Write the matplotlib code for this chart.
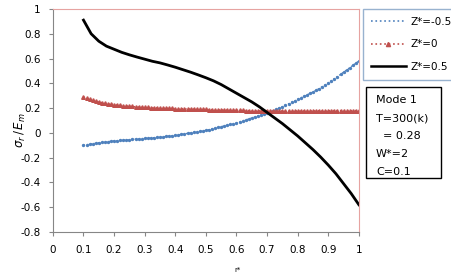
import numpy as np
import matplotlib
matplotlib.use('Agg')
import matplotlib.pyplot as plt
from matplotlib.lines import Line2D
from matplotlib.patches import Rectangle

# r* positions (dense sampling for marker series)
r_dense = np.round(np.arange(0.10, 1.001, 0.01), 2)
r_line = np.round(np.arange(0.100, 1.0001, 0.025), 3)

# Z*=-0.5
z_neg = [-0.100, -0.096, -0.092, -0.088, -0.084, -0.080, -0.077, -0.074, -0.071, -0.068,
         -0.065, -0.063, -0.061, -0.059, -0.057, -0.055, -0.053, -0.051, -0.049, -0.047,
         -0.045, -0.043, -0.041, -0.039, -0.037, -0.035, -0.032, -0.029, -0.026, -0.023,
         -0.020, -0.016, -0.012, -0.008, -0.004, 0.000, 0.004, 0.008, 0.012, 0.016,
         0.020, 0.026, 0.032, 0.038, 0.044, 0.050, 0.056, 0.062, 0.068, 0.074,
         0.080, 0.088, 0.096, 0.104, 0.112, 0.120, 0.128, 0.136, 0.144, 0.152,
         0.160, 0.170, 0.180, 0.190, 0.200, 0.210, 0.222, 0.234, 0.246, 0.258,
         0.270, 0.282, 0.294, 0.306, 0.318, 0.330, 0.344, 0.358, 0.372, 0.386,
         0.400, 0.418, 0.436, 0.454, 0.472, 0.490, 0.508, 0.526, 0.544, 0.562,
         0.580]

# Z*=0
z_zero = [0.290, 0.280, 0.270, 0.262, 0.255, 0.250, 0.245, 0.240, 0.236, 0.232,
          0.228, 0.225, 0.222, 0.219, 0.217, 0.215, 0.213, 0.211, 0.209, 0.207,
          0.206, 0.205, 0.204, 0.203, 0.202, 0.201, 0.200, 0.199, 0.198, 0.197,
          0.196, 0.195, 0.195, 0.194, 0.193, 0.192, 0.192, 0.191, 0.190, 0.190,
          0.189, 0.188, 0.188, 0.187, 0.186, 0.186, 0.185, 0.184, 0.184, 0.183,
          0.182, 0.182, 0.181, 0.180, 0.180, 0.179, 0.179, 0.178, 0.178, 0.177,
          0.177, 0.177, 0.176, 0.176, 0.176, 0.176, 0.176, 0.176, 0.176, 0.177,
          0.177, 0.177, 0.177, 0.178, 0.178, 0.178, 0.178, 0.179, 0.179, 0.179,
          0.179, 0.180, 0.180, 0.180, 0.180, 0.180, 0.180, 0.180, 0.180, 0.180,
          0.180]

# Z*=0.5
z_pos = [0.91, 0.80, 0.74, 0.70, 0.675, 0.65, 0.63, 0.612, 0.595, 0.578,
         0.565, 0.548, 0.53, 0.51, 0.49, 0.468, 0.445, 0.42, 0.39, 0.355,
         0.32, 0.285, 0.25, 0.21, 0.165, 0.12, 0.075, 0.025, -0.025, -0.08,
         -0.135, -0.195, -0.26, -0.33, -0.41, -0.49, -0.58]

series_labels = ['Z*=-0.5', 'Z*=0', 'Z*=0.5']
note_lines = ['Mode 1', 'T=300(k)', '  = 0.28', 'W*=2', 'C=0.1']
y_ticks = [-0.8, -0.6, -0.4, -0.2, 0, 0.2, 0.4, 0.6, 0.8, 1]
x_ticks = [0, 0.1, 0.2, 0.3, 0.4, 0.5, 0.6, 0.7, 0.8, 0.9, 1]

blue = '#4f81bd'
red = '#c0504d'

fig = plt.figure(figsize=(4.52, 2.72), dpi=100)
ax = fig.add_axes([0.117, 0.147, 0.677, 0.820])

ax.plot(r_dense, z_neg, color=blue, linestyle=':', linewidth=1.0,
        marker='o', markersize=1.4)
ax.plot(r_dense, z_zero, color=red, linestyle=':', linewidth=1.0,
        marker='^', markersize=2.6)
ax.plot(r_line, z_pos, color='black', linewidth=2.0)

ax.set_xlim(0, 1)
ax.set_ylim(-0.8, 1)
ax.set_xticks(x_ticks)
ax.set_xticklabels(['0', '0.1', '0.2', '0.3', '0.4', '0.5', '0.6', '0.7', '0.8', '0.9', '1'])
ax.set_yticks(y_ticks)
ax.set_yticklabels(['-0.8', '-0.6', '-0.4', '-0.2', '0', '0.2', '0.4', '0.6', '0.8', '1'])
ax.tick_params(labelsize=7.5, length=3, color='#868686', direction='out', pad=6)

for side in ['left', 'bottom']:
    ax.spines[side].set_color('#868686')
for side in ['top', 'right']:
    ax.spines[side].set_color('#e6a3a1')

fig.text(0.045, 0.52, r'$\sigma_r\,/\,E_m$',
         rotation=90, fontsize=8.5, fontweight='bold', ha='center', va='center')
fig.text(0.525, -0.005, 'r*', fontsize=5, ha='center', va='bottom')

handles = [
    Line2D([], [], color=blue, linestyle=':', linewidth=1.2),
    Line2D([], [], color=red, linestyle=':', linewidth=1.2, marker='^', markersize=3),
    Line2D([], [], color='black', linewidth=1.8),
]
leg = ax.legend(handles, series_labels, loc='upper left', bbox_to_anchor=(1.013, 1.0),
                borderaxespad=0, fontsize=7.5, frameon=True, fancybox=False,
                handlelength=3.4, handletextpad=0.4, labelspacing=1.2,
                borderpad=0.75, numpoints=1)
leg.get_frame().set_edgecolor('#7f9fc4')
leg.get_frame().set_linewidth(1.0)

# parameter box
fig.add_artist(Rectangle((0.810, 0.346), 0.166, 0.334, transform=fig.transFigure,
                         facecolor='white', edgecolor='black', linewidth=1.0))
for i, line in enumerate(note_lines):
    fig.text(0.832, 0.632 - i * 0.0665, line, fontsize=8, ha='left', va='center')

fig.savefig('out.png', dpi=100)
plt.close()
